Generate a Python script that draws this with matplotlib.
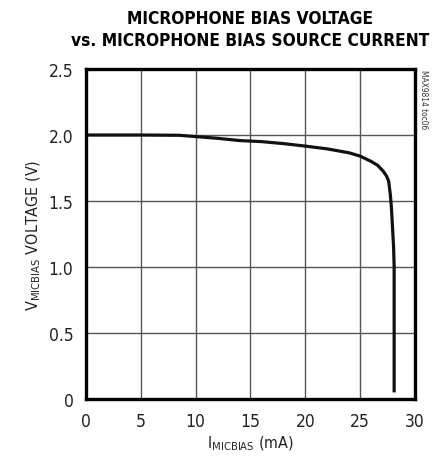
import matplotlib
matplotlib.use("Agg")
import matplotlib.pyplot as plt

current_ma = [0, 5, 8.5, 10, 12, 14, 16, 18, 20, 22, 24, 25, 26, 26.6, 27.1, 27.4, 27.6,
              27.75, 27.85, 27.95, 28.05, 28.1, 28.1]
voltage_v = [2.0, 2.0, 1.998, 1.988, 1.975, 1.958, 1.95, 1.935, 1.916, 1.895, 1.865, 1.84,
             1.80, 1.77, 1.726, 1.69, 1.65, 1.55, 1.45, 1.3, 1.15, 1.0, 0.05]

x_ticks = [0, 5, 10, 15, 20, 25, 30]
y_ticks = [0, 0.5, 1.0, 1.5, 2.0, 2.5]
y_labels = ["0", "0.5", "1.0", "1.5", "2.0", "2.5"]

plt.rcParams['font.family'] = ["DejaVu Sans"]
plt.rcParams['font.stretch'] = "condensed"

fig = plt.figure(figsize=(4.33, 4.6), dpi=100)
ax = fig.add_axes([0.1986, 0.1304, 0.7598, 0.7174])

ax.plot(current_ma, voltage_v, color="#111111", linewidth=2.3, solid_capstyle="butt")

ax.set_xlim(0, 30)
ax.set_ylim(0, 2.5)
ax.set_xticks(x_ticks)
ax.set_yticks(y_ticks)
ax.set_yticklabels(y_labels)
ax.grid(True, color="#555555", linewidth=1.0)
ax.tick_params(length=0, labelsize=12.5, pad=9, colors="#222222")
for s in ax.spines.values():
    s.set_linewidth(2.4)

ax.set_xlabel(r"I$_{\mathregular{MICBIAS}}$ (mA)", fontsize=11.5, color="#222222", labelpad=3)
ax.set_ylabel(r"V$_{\mathregular{MICBIAS}}$ VOLTAGE (V)", fontsize=11.5, color="#222222", labelpad=4)

fig.text(0.577, 0.935, "MICROPHONE BIAS VOLTAGE\nvs. MICROPHONE BIAS SOURCE CURRENT",
         ha="center", va="center", fontsize=12.4, fontweight="heavy", linespacing=1.3)
fig.text(0.979, 0.848, "MAX9814 toc06", rotation=270, ha="center", va="top", fontsize=6,
         color="#333333")

fig.savefig("out.png", dpi=100)
